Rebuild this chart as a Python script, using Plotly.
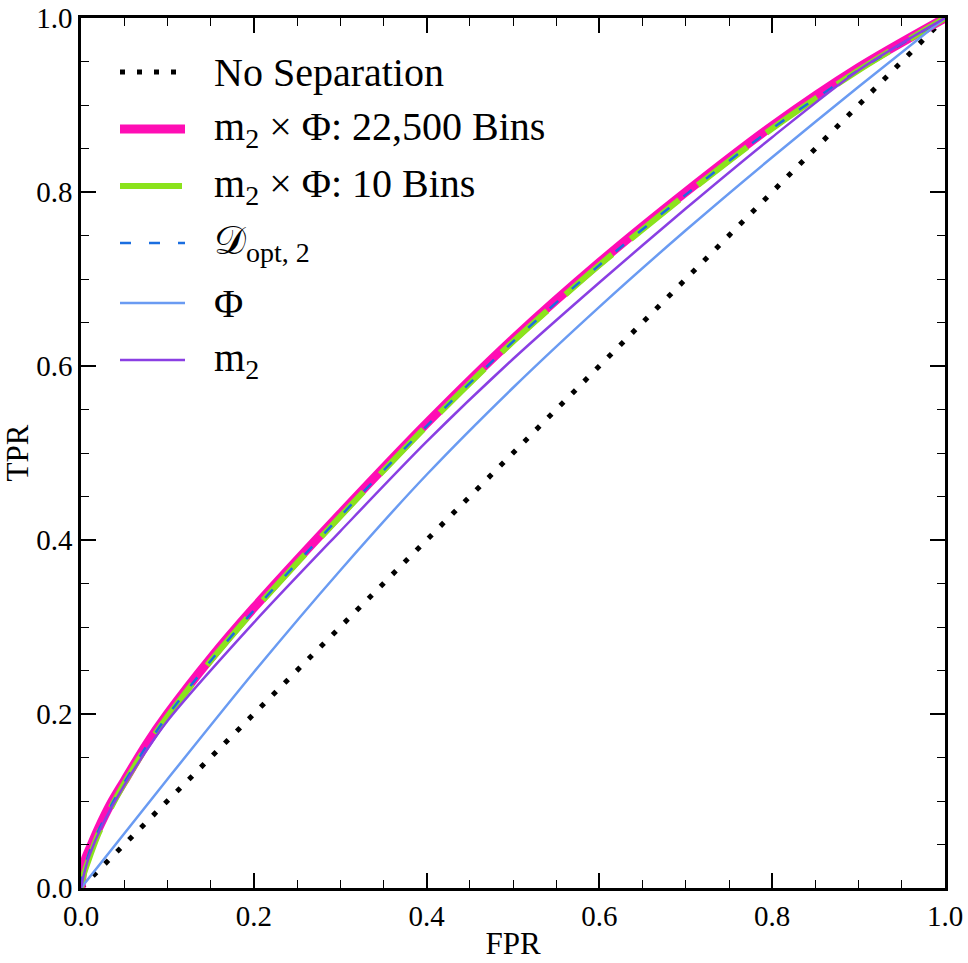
import plotly.graph_objects as go

# ---------------- data ----------------
diag_fpr = [0.0, 1.0]
diag_tpr = [0.0, 1.0]

bins22500_fpr = [0.0, 0.002, 0.005, 0.01, 0.02, 0.035, 0.05, 0.075, 0.1, 0.15, 0.2, 0.3, 0.4, 0.5, 0.6, 0.7, 0.8, 0.9, 1.0]
bins22500_tpr = [0.0, 0.02, 0.033, 0.045, 0.068, 0.098, 0.123, 0.164, 0.200, 0.264, 0.322, 0.43, 0.534, 0.631, 0.719, 0.80, 0.876, 0.943, 1.0]

bins10_fpr = [0.0, 0.003, 0.008, 0.02, 0.035, 0.05, 0.075, 0.1, 0.15, 0.2, 0.3, 0.4, 0.5, 0.6, 0.7, 0.8, 0.9, 1.0]
bins10_tpr = [0.0, 0.015, 0.03, 0.062, 0.093, 0.12, 0.161, 0.197, 0.261, 0.319, 0.427, 0.531, 0.628, 0.716, 0.797, 0.873, 0.940, 1.0]

dopt_fpr = [0.0, 0.002, 0.006, 0.015, 0.035, 0.05, 0.075, 0.1, 0.15, 0.2, 0.3, 0.4, 0.5, 0.6, 0.7, 0.8, 0.9, 1.0]
dopt_tpr = [0.0, 0.016, 0.03, 0.055, 0.095, 0.121, 0.162, 0.198, 0.261, 0.319, 0.427, 0.531, 0.628, 0.716, 0.797, 0.873, 0.940, 1.0]

phi_fpr = [0.0, 0.1, 0.2, 0.3, 0.4, 0.5, 0.6, 0.7, 0.8, 0.9, 1.0]
phi_tpr = [0.0, 0.125, 0.248, 0.365, 0.475, 0.575, 0.668, 0.756, 0.840, 0.921, 1.0]

m2_fpr = [0.0, 0.004, 0.01, 0.025, 0.05, 0.075, 0.1, 0.2, 0.3, 0.4, 0.5, 0.6, 0.7, 0.8, 0.9, 1.0]
m2_tpr = [0.0, 0.018, 0.038, 0.073, 0.118, 0.157, 0.192, 0.305, 0.41, 0.513, 0.608, 0.696, 0.781, 0.863, 0.940, 1.0]

tick_vals = [0.0, 0.2, 0.4, 0.6, 0.8, 1.0]
tick_text = ["0.0", "0.2", "0.4", "0.6", "0.8", "1.0"]

legend_labels = [
    "No Separation",
    "m<sub>2</sub> × Φ: 22,500 Bins",
    "m<sub>2</sub> × Φ: 10 Bins",
    "𝒟<sub>opt, 2</sub>",
    "Φ",
    "m<sub>2</sub>",
]

# ---------------- styles ----------------
styles = [
    dict(color="black", width=5, dash="5px,12px"),
    dict(color="#FF0DB4", width=9, dash="solid"),
    dict(color="#8BE31C", width=6, dash="62px,24px"),
    dict(color="#1A6EE0", width=2.5, dash="11px,18px"),
    dict(color="#6A9BF2", width=2.5, dash="solid"),
    dict(color="#8A3FE3", width=2.5, dash="solid"),
]

series = [
    (diag_fpr, diag_tpr),
    (bins22500_fpr, bins22500_tpr),
    (bins10_fpr, bins10_tpr),
    (dopt_fpr, dopt_tpr),
    (phi_fpr, phi_tpr),
    (m2_fpr, m2_tpr),
]

FONT = "Liberation Serif, Times New Roman, serif"

fig = go.Figure()
for (xs, ys), st, lab in zip(series, styles, legend_labels):
    fig.add_trace(go.Scatter(
        x=xs, y=ys, mode="lines", name=lab, showlegend=False,
        line=dict(color=st["color"], width=st["width"], dash=st["dash"],
                  shape="spline", smoothing=0.8),
        hoverinfo="skip",
    ))

# ---------------- layout ----------------
W, H = 968, 963
L, T, R, B = 81, 18, 23, 75
pw, ph = W - L - R, H - T - B

def px2paper_x(px):
    return (px - L) / pw

def px2paper_y(py):
    return (H - B - py) / ph

row_y = [72, 129, 186, 243, 303, 360]
for i, (lab, st) in enumerate(zip(legend_labels, styles)):
    y = px2paper_y(row_y[i])
    fig.add_shape(type="line", xref="paper", yref="paper",
                  x0=px2paper_x(120), x1=px2paper_x(185), y0=y, y1=y,
                  line=dict(color=st["color"], width=st["width"], dash=st["dash"]))
    fig.add_annotation(xref="paper", yref="paper", x=px2paper_x(212), y=y,
                       text=lab, showarrow=False, xanchor="left", yanchor="middle",
                       font=dict(family=FONT, size=40, color="black"))

axis_common = dict(
    range=[0, 1], tickvals=tick_vals, ticktext=tick_text,
    ticks="inside", ticklen=15, tickwidth=1.5, tickcolor="black",
    minor=dict(dtick=0.05, ticks="inside", ticklen=8, tickwidth=1.2, tickcolor="black", showgrid=False),
    showline=True, linewidth=2.5, linecolor="black", mirror="ticks",
    showgrid=False, zeroline=False, automargin=False,
    ticklabeloverflow="allow",
    tickfont=dict(family=FONT, size=29, color="black"),
)

fig.update_layout(
    width=W, height=H,
    margin=dict(l=L, r=R, t=T, b=B, autoexpand=False),
    paper_bgcolor="white", plot_bgcolor="white",
    xaxis=dict(axis_common, title=dict(text="FPR", font=dict(family=FONT, size=31, color="black"), standoff=2)),
    yaxis=dict(axis_common, title=dict(text="TPR", font=dict(family=FONT, size=31, color="black"), standoff=4)),
)

fig.write_html("out.html", config={"displayModeBar": False},
               post_script="document.body.style.margin='0px';")
